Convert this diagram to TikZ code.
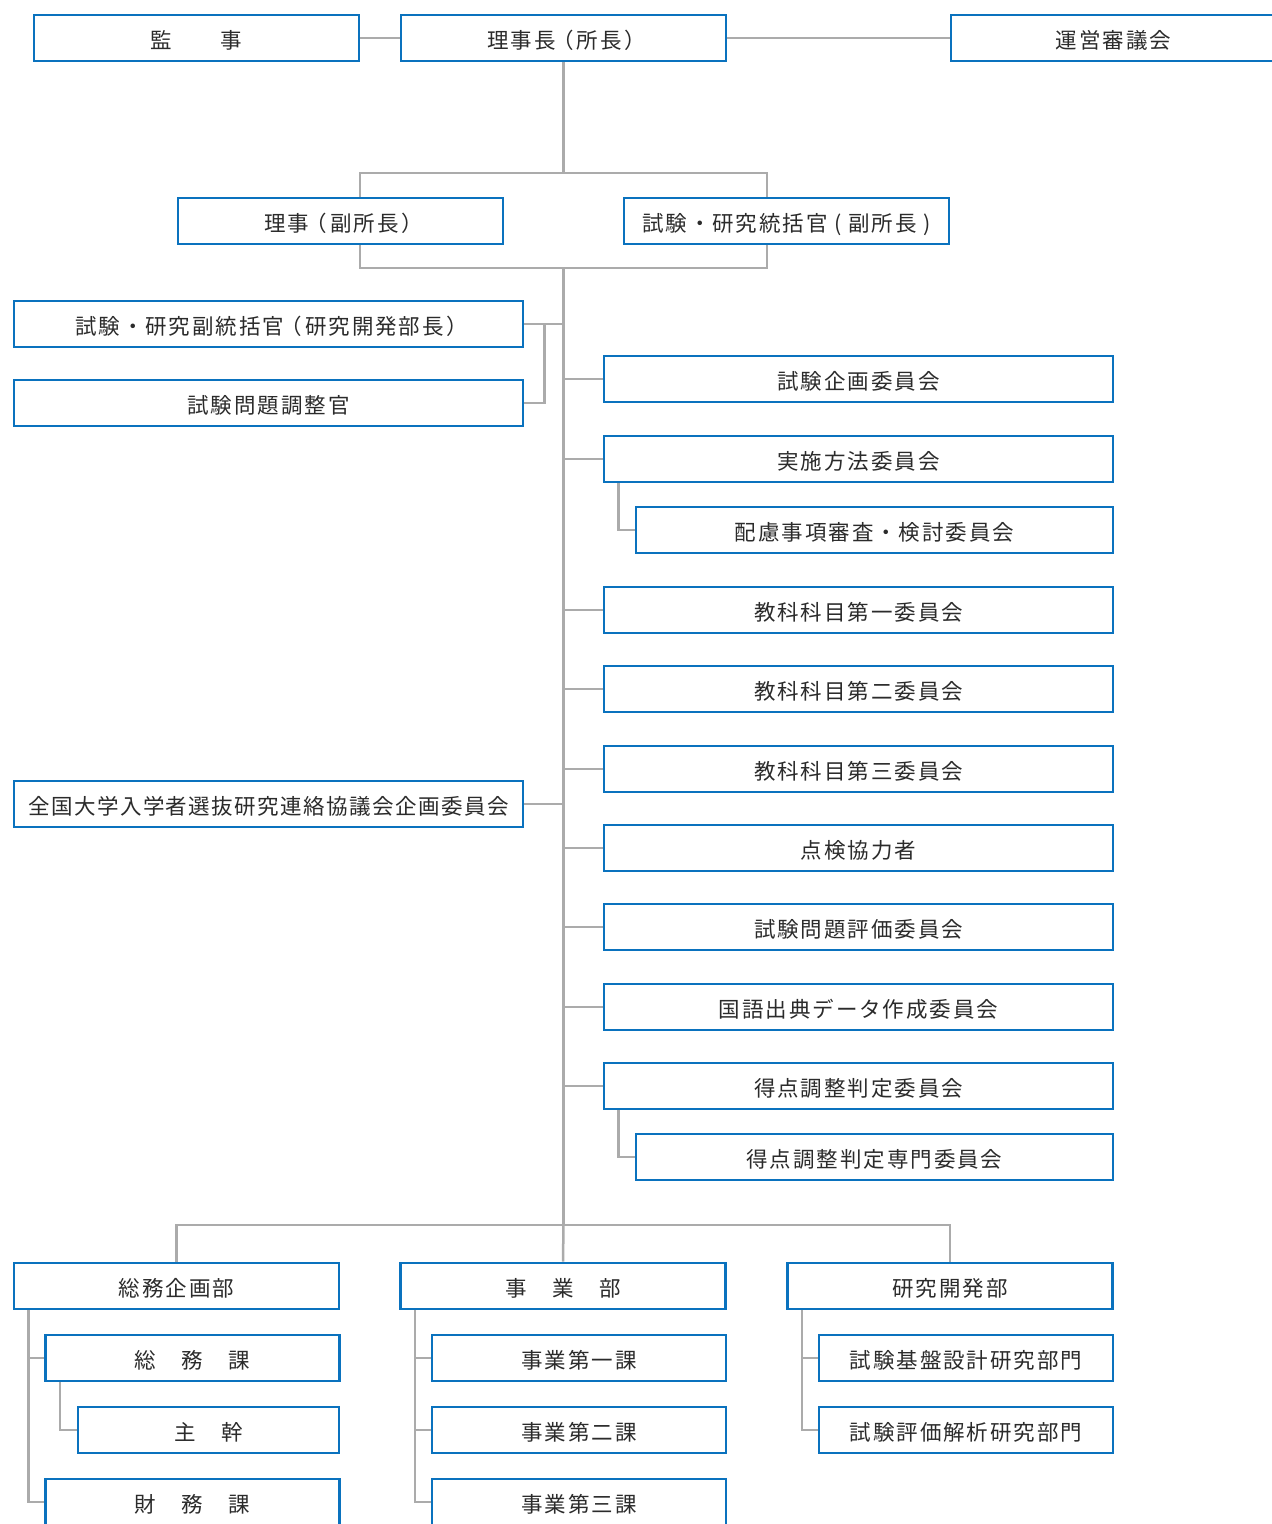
\documentclass[tikz,border=0pt]{standalone}
\usepackage{fontspec}
\newfontfamily\jp[LetterSpace=9]{Noto Sans CJK JP}
\newfontfamily\jpn[LetterSpace=6.7]{Noto Sans CJK JP}
\usetikzlibrary{calc}
\definecolor{boxblue}{HTML}{0A72BE}
\definecolor{linegray}{HTML}{ABABAB}
\definecolor{txt}{HTML}{2B2B2B}
\newcommand{\lpar}{\kern3pt\makebox[15pt][r]{（}\kern3pt}
\newcommand{\rpar}{\kern3pt\makebox[15pt][l]{）}}
\begin{document}
\begin{tikzpicture}[x=1pt,y=-1pt,
  box/.style={draw=boxblue, line width=2.8pt, fill=white, minimum height=46pt, inner sep=0pt, text height=22pt, text depth=1pt, font=\jp\fontsize{21.5}{24}\selectfont, text=txt},
  boxA/.style={box, minimum width=325pt},
  boxL/.style={box, minimum width=509pt},
  boxS/.style={box, minimum width=477pt},
  boxC/.style={box, minimum width=294pt},
  boxD/.style={box, minimum width=261pt},
  conn/.style={draw=linegray, line width=2.5pt}]
\useasboundingbox (0,0) rectangle (1272,1524);
\clip (0,0) rectangle (1272,1524);
% top row
\node[boxA] (kanji) at (196.5,38) {監　　事};
\node[boxA] (richo) at (563.5,38) {理事長\lpar 所長\rpar};
\node[boxA] (unei) at (1113.5,38) {運営審議会};
\node[boxA] (riji) at (340.5,221) {理事\lpar 副所長\rpar};
\node[boxA] (tokatsu) at (786.5,221) {試験・研究統括官 ( 副所長 )};
% left
\node[boxL] (fuku) at (268.5,324) {試験・研究副統括官\lpar 研究開発部長\rpar};
\node[boxL] (chosei) at (268.5,403) {試験問題調整官};
\node[boxL, font=\jpn\fontsize{21.5}{24}\selectfont] (zenkoku) at (268.5,804) {全国大学入学者選抜研究連絡協議会企画委員会};
% right
\node[boxL] (kikaku) at (858.5,379) {試験企画委員会};
\node[boxL] (jisshi) at (858.5,459) {実施方法委員会};
\node[boxS] (hairyo) at (874.5,530) {配慮事項審査・検討委員会};
\node[boxL] (k1) at (858.5,610) {教科科目第一委員会};
\node[boxL] (k2) at (858.5,689) {教科科目第二委員会};
\node[boxL] (k3) at (858.5,769) {教科科目第三委員会};
\node[boxL] (tenken) at (858.5,848) {点検協力者};
\node[boxL] (hyoka) at (858.5,927) {試験問題評価委員会};
\node[boxL] (kokugo) at (858.5,1007) {国語出典データ作成委員会};
\node[boxL] (tokuten) at (858.5,1086) {得点調整判定委員会};
\node[boxS] (senmon) at (874.5,1157) {得点調整判定専門委員会};
% bottom
\node[boxA] (somu) at (176.5,1286) {総務企画部};
\node[boxA] (jigyo) at (563,1286) {事　業　部};
\node[boxA] (kenkyu) at (950,1286) {研究開発部};
\node[boxC] (somuka) at (192.5,1358) {総　務　課};
\node[boxD] (shukan) at (208.5,1430) {主　幹};
\node[boxC] (zaimu) at (192.5,1502) {財　務　課};
\node[boxC] (j1) at (579,1358) {事業第一課};
\node[boxC] (j2) at (579,1430) {事業第二課};
\node[boxC] (j3) at (579,1502) {事業第三課};
\node[boxC] (r1) at (966,1358) {試験基盤設計研究部門};
\node[boxC] (r2) at (966,1430) {試験評価解析研究部門};
% coordinates
\coordinate (top) at (563.5,173);
\coordinate (tl) at (360,173);
\coordinate (tr) at (767,173);
\coordinate (bl) at (360,268);
\coordinate (br) at (767,268);
\coordinate (bot) at (563.5,268);
\coordinate (split) at (563.5,1225);
% connectors
\draw[conn] (kanji) -- (richo);
\draw[conn] (richo) -- (unei);
\draw[conn] (richo) -- (top);
\draw[conn] (tl |- riji.north) -- (tl) -- (tr) -- (tr |- tokatsu.north);
\draw[conn] (bl |- riji.south) -- (bl) -- (br) -- (br |- tokatsu.south);
\draw[conn] (bot) -- (split);
\draw[conn] (fuku) -- (fuku -| bot);
\draw[conn] (chosei.east) -- ($(chosei.east)+(20,0)$) |- (fuku.east);
\draw[conn] (zenkoku) -- (zenkoku -| bot);
\foreach \n in {kikaku,jisshi,k1,k2,k3,tenken,hyoka,kokugo,tokuten}
  \draw[conn] (\n) -- (\n -| bot);
\draw[conn] ($(jisshi.south west)+(16,0)$) |- (hairyo.west);
\draw[conn] ($(tokuten.south west)+(16,0)$) |- (senmon.west);
\draw[conn] (somu.north) |- (split) -| (kenkyu.north);
\draw[conn] (split) -- (jigyo.north);
\draw[conn] ($(somu.south west)+(16,0)$) |- (zaimu.west);
\draw[conn] ($(somu.south west)+(16,0)$) |- (somuka.west);
\draw[conn] ($(somuka.south west)+(16,0)$) |- (shukan.west);
\draw[conn] ($(jigyo.south west)+(16,0)$) |- (j3.west);
\draw[conn] ($(jigyo.south west)+(16,0)$) |- (j1.west);
\draw[conn] ($(jigyo.south west)+(16,0)$) |- (j2.west);
\draw[conn] ($(kenkyu.south west)+(16,0)$) |- (r2.west);
\draw[conn] ($(kenkyu.south west)+(16,0)$) |- (r1.west);
\end{tikzpicture}
\end{document}
